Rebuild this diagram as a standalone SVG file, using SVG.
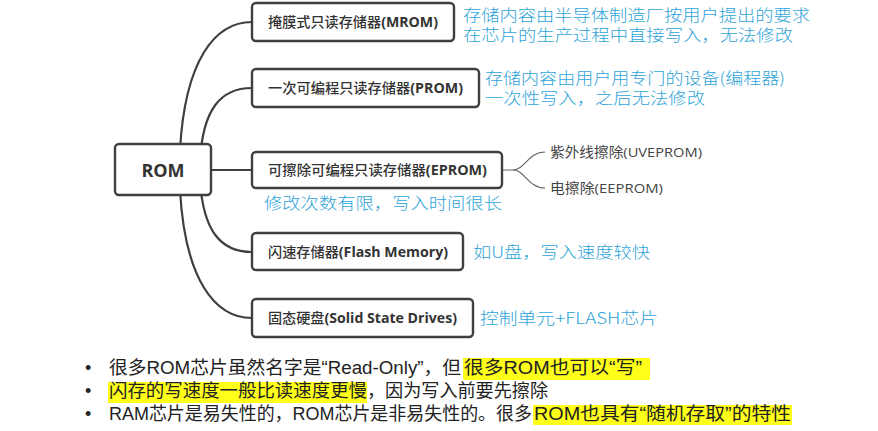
<svg xmlns="http://www.w3.org/2000/svg" width="878" height="431" viewBox="0 0 878 431">
<style>
.box{fill:#fff;stroke:#3f3f3f;stroke-width:2.4}
.lbl{font-family:"Open Sans","Noto Sans CJK SC",sans-serif;font-size:14px;font-weight:500;fill:#333}
.lbl tspan{font-weight:700}
.sub{font-family:"Open Sans","Noto Sans CJK SC",sans-serif;font-size:13.5px;fill:#444}
.note{font-family:"Noto Sans CJK SC",sans-serif;font-size:16px;fill:#2fa4d8;font-weight:300}
.bul{font-family:"Liberation Sans","Noto Sans CJK SC",sans-serif;font-size:18px;fill:#222}
.hl{fill:#ffff1a}
.con{fill:none;stroke:#3f3f3f;stroke-width:2.2}
.thin{fill:none;stroke:#666;stroke-width:1.2}
</style>
<rect width="878" height="431" fill="#fff"/>
<g id="connectors">
<path class="con" d="M180,150 C185,60 215,22 252,22"/>
<path class="con" d="M200,160 C203,110 220,88 252,88"/>
<path class="con" d="M211,170 L252,170"/>
<path class="con" d="M200,180 C203,230 220,252 252,252"/>
<path class="con" d="M180,190 C185,280 215,318 252,318"/>
<path class="thin" d="M502,170 L513,170 C525,170 528,152 545,152"/>
<path class="thin" d="M513,170 C525,170 528,188 545,188"/>
</g>
<g id="rom">
<rect class="box" x="115" y="144" width="96" height="51" rx="4"/>
<text x="163" y="176.5" text-anchor="middle" font-family="Open Sans,sans-serif" font-size="18" font-weight="700" fill="#333">ROM</text>
</g>
<g id="mrom">
<rect class="box" x="252" y="3" width="202" height="38" rx="4"/>
<text class="lbl" x="268" y="27" textLength="170" lengthAdjust="spacingAndGlyphs">掩膜式只读存储器<tspan>(MROM)</tspan></text>
</g>
<g id="prom">
<rect class="box" x="252" y="69" width="227" height="38" rx="4"/>
<text class="lbl" x="268" y="93" textLength="195" lengthAdjust="spacingAndGlyphs">一次可编程只读存储器<tspan>(PROM)</tspan></text>
</g>
<g id="eprom">
<rect class="box" x="252" y="152" width="250" height="36" rx="4"/>
<text class="lbl" x="268" y="175" textLength="219" lengthAdjust="spacingAndGlyphs">可擦除可编程只读存储器<tspan>(EPROM)</tspan></text>
</g>
<g id="uveprom">
<text class="sub" x="550" y="157" textLength="152" lengthAdjust="spacingAndGlyphs">紫外线擦除(UVEPROM)</text>
</g>
<g id="eeprom">
<text class="sub" x="550" y="193" textLength="113" lengthAdjust="spacingAndGlyphs">电擦除(EEPROM)</text>
</g>
<g id="flash">
<rect class="box" x="252" y="233" width="211" height="37" rx="4"/>
<text class="lbl" x="268" y="256.5" textLength="180" lengthAdjust="spacingAndGlyphs">闪速存储器<tspan>(Flash Memory)</tspan></text>
</g>
<g id="ssd">
<rect class="box" x="252" y="299" width="221" height="38" rx="4"/>
<text class="lbl" x="268" y="323" textLength="189" lengthAdjust="spacingAndGlyphs">固态硬盘<tspan>(Solid State Drives)</tspan></text>
</g>
<g id="notes">
<text class="note" x="463" y="20.5" textLength="347" lengthAdjust="spacingAndGlyphs">存储内容由半导体制造厂按用户提出的要求</text>
<text class="note" x="463" y="41" textLength="330" lengthAdjust="spacingAndGlyphs">在芯片的生产过程中直接写入，无法修改</text>
<text class="note" x="485" y="83.5" textLength="300" lengthAdjust="spacingAndGlyphs">存储内容由用户用专门的设备(编程器)</text>
<text class="note" x="485" y="104" textLength="220" lengthAdjust="spacingAndGlyphs">一次性写入，之后无法修改</text>
<text class="note" x="264" y="209" textLength="238" lengthAdjust="spacingAndGlyphs">修改次数有限，写入时间很长</text>
<text class="note" x="473" y="258" textLength="177" lengthAdjust="spacingAndGlyphs">如U盘，写入速度较快</text>
<text class="note" x="480" y="324" textLength="178" lengthAdjust="spacingAndGlyphs">控制单元+FLASH芯片</text>
</g>
<g id="bullets">
<rect class="hl" x="463" y="358" width="187" height="22"/>
<rect class="hl" x="108" y="382" width="259" height="21"/>
<rect class="hl" x="533" y="405" width="259" height="20"/>
<text class="bul" x="85" y="374">•</text>
<text class="bul" x="85" y="397">•</text>
<text class="bul" x="85" y="420">•</text>
<text class="bul" x="109" y="374" textLength="352" lengthAdjust="spacingAndGlyphs">很多ROM芯片虽然名字是“Read-Only”，但</text>
<text class="bul" x="464" y="374" textLength="178" lengthAdjust="spacingAndGlyphs">很多ROM也可以“写”</text>
<text class="bul" x="109" y="397" textLength="258" lengthAdjust="spacingAndGlyphs">闪存的写速度一般比读速度更慢</text>
<text class="bul" x="367" y="397" textLength="181" lengthAdjust="spacingAndGlyphs">，因为写入前要先擦除</text>
<text class="bul" x="109" y="420" textLength="423" lengthAdjust="spacingAndGlyphs">RAM芯片是易失性的，ROM芯片是非易失性的。很多</text>
<text class="bul" x="534" y="420" textLength="257" lengthAdjust="spacingAndGlyphs">ROM也具有“随机存取”的特性</text>
</g>
</svg>
